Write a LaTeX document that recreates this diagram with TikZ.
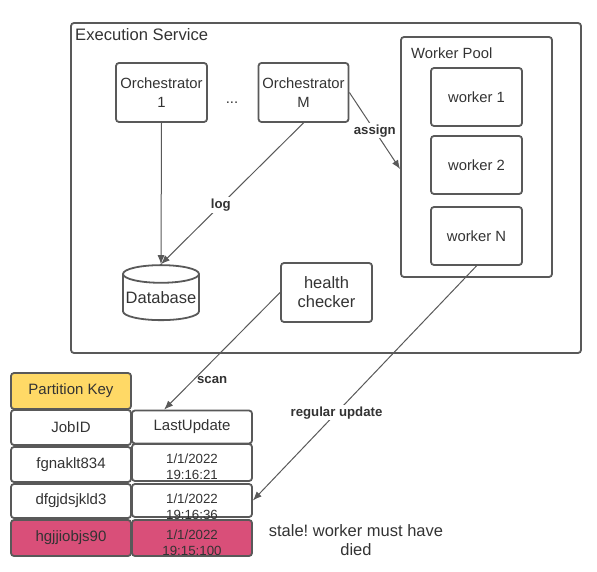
\documentclass[tikz,border=0pt]{standalone}
\usepackage{fontspec}
\setmainfont{Liberation Sans}
\usetikzlibrary{arrows.meta,shapes.geometric}
\definecolor{bordo}{HTML}{595959}
\definecolor{testo}{HTML}{333333}
\definecolor{giallo}{HTML}{FFD966}
\definecolor{rosa}{HTML}{D94F79}
\begin{document}
\begin{tikzpicture}[x=1pt, y=-1pt, >={Latex[length=9pt,width=7pt]},
	scatola/.style={draw=bordo, line width=1.8pt, rounded corners=3pt, text=testo, align=center, inner sep=0pt, font=\fontsize{14.8}{19}\selectfont},
	grande/.style={font=\fontsize{16.5}{19}\selectfont},
	cella/.style={draw=bordo, line width=1.8pt, rounded corners=3pt, text=testo, align=center, inner sep=0pt, minimum width=120pt, font=\fontsize{15}{17}\selectfont},
	dataval/.style={text=testo, align=center, inner sep=0pt, font=\fontsize{13.3}{15.7}\selectfont},
	freccia/.style={->, draw=bordo, line width=1pt},
	etichetta/.style={fill=white, text=testo, inner sep=1.5pt, font=\bfseries\fontsize{13.2}{15}\selectfont}]
	
	\useasboundingbox (0,0) rectangle (597,572);
	
	% --- Contenitori ---
	\node[scatola, minimum width=510pt, minimum height=330pt] (servizio) at (326,188) {};
	\node[anchor=west, text=testo, inner sep=0pt, font=\fontsize{16.6}{19}\selectfont] (titolo) at (75,35) {Execution Service};
	\node[scatola, minimum width=151pt, minimum height=240pt] (pool) at (476.5,157) {};
	\node[anchor=west, text=testo, inner sep=0pt, font=\fontsize{14.8}{19}\selectfont] (titolopool) at (411,53) {Worker Pool};
	
	% --- Orchestratori e worker ---
	\node[scatola, minimum width=91pt, minimum height=59pt] (orch1) at (161.5,92.5) {Orchestrator\\1};
	\node[text=testo, font=\fontsize{14.8}{19}\selectfont] (puntini) at (232,103) {...};
	\node[scatola, minimum width=90pt, minimum height=59pt] (orchM) at (303.5,92.5) {Orchestrator\\M};
	\node[scatola, minimum width=91pt, minimum height=58pt] (w1) at (476.5,97) {worker 1};
	\node[scatola, minimum width=91pt, minimum height=58pt] (w2) at (476.5,165) {worker 2};
	\node[scatola, minimum width=91pt, minimum height=58pt] (wN) at (476.5,236) {worker N};
	
	% --- Database e health checker ---
	\node[scatola, grande, shape=cylinder, shape border rotate=90, aspect=0.25, minimum width=76pt, minimum height=55pt, rounded corners=0pt] (db) at (161,297.5) {Database};
	\node[scatola, grande, minimum width=91pt, minimum height=59pt] (hc) at (326.5,292.5) {health\\checker};
	
	% --- Tabella ---
	\node[cella, fill=giallo, minimum height=36pt] (pk) at (71,391) {Partition Key};
	\node[cella, minimum height=35pt] (jobid) at (71,427.5) {JobID};
	\node[cella, minimum height=33pt] (lastupd) at (192,427) {LastUpdate};
	\node[cella, minimum height=35pt] (r1a) at (71,464.5) {fgnaklt834};
	\node[cella, minimum height=37pt] (r1b) at (192,462.5) {};
	\node[cella, minimum height=34pt] (r2a) at (71,501) {dfgjdsjkld3};
	\node[cella, minimum height=33pt] (r2b) at (192,500.5) {};
	\node[cella, fill=rosa, minimum height=36pt] (r3a) at (71,538) {hgjjiobjs90};
	\node[cella, fill=rosa, minimum height=36pt] (r3b) at (192,538) {};
	\node[dataval] (t1) at ([yshift=-4pt]r1b.center) {1/1/2022\\19:16:21};
	\node[dataval] (t2) at ([yshift=-6pt]r2b.center) {1/1/2022\\19:16:36};
	\node[dataval] (t3) at ([yshift=-5pt]r3b.center) {1/1/2022\\19:15:100};
	\node[text=testo, align=center, inner sep=0pt, grande] (nota) at (356,540) {stale!\ worker must have\\died};
	
	% --- Frecce ---
	\draw[freccia] (orch1.south) -- (db.north);
	\draw[freccia] (orchM.south) -- node[etichetta, pos=0.58] {log} (db.north);
	\draw[freccia] (orchM.east) -- node[etichetta, pos=0.5] {assign} (pool.189);
	\draw[freccia] (hc.west) -- node[pos=0.75, anchor=west, xshift=2pt, text=testo, inner sep=1.5pt, font=\bfseries\fontsize{13.2}{15}\selectfont] {scan} (lastupd.148);
	\draw[freccia] (wN.south) -- node[etichetta, pos=0.626] {regular update} (r2b.east);
\end{tikzpicture}
\end{document}
